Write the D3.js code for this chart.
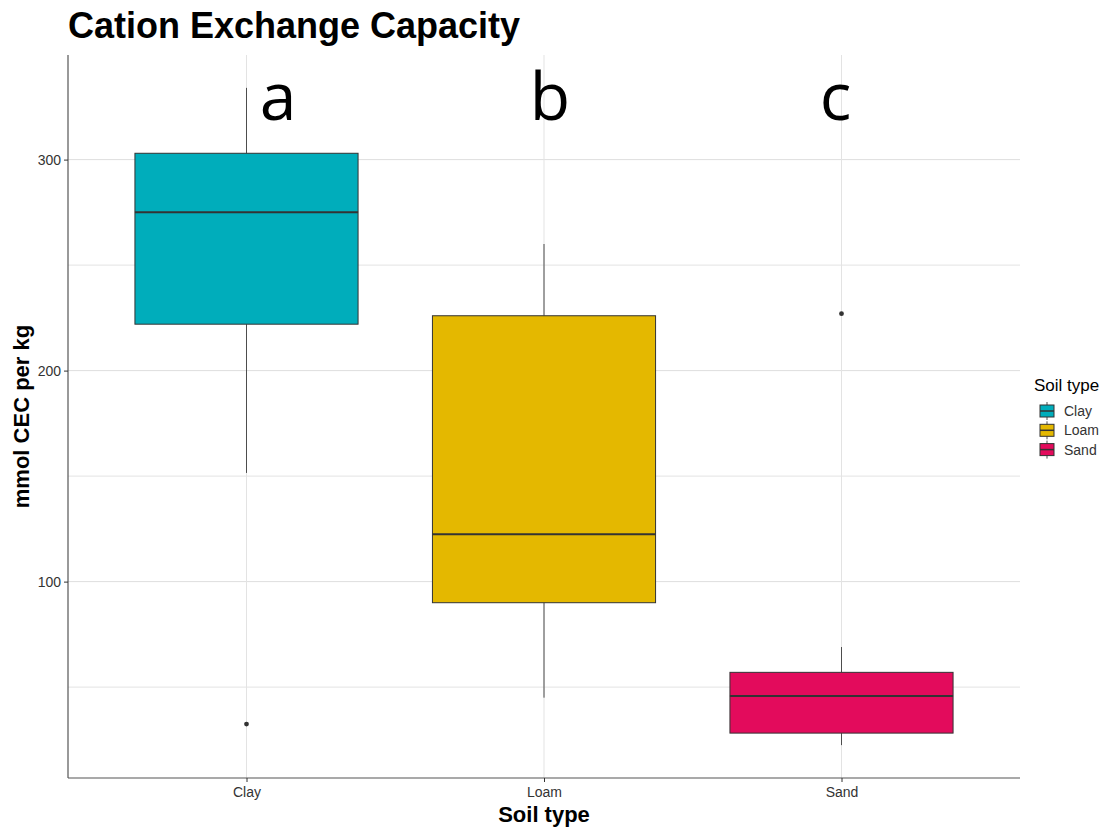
<!DOCTYPE html>
<html>
<head>
<meta charset="utf-8">
<script src="https://cdn.jsdelivr.net/npm/d3@7"></script>
<style>
  body { margin: 0; background: #fff; }
  svg { display: block; font-family: "Liberation Sans", Arial, sans-serif; }
</style>
</head>
<body>
<svg id="chart" width="1106" height="827"></svg>
<script>
// Soil types and their colours
const categories = ["Clay", "Loam", "Sand"];
const colors = ["#00ADBB", "#E4B800", "#E30B5C"];

// Five-number summaries (mmol CEC per kg)
const whiskerLow  = [151.5, 45, 22.5];
const q1          = [222, 90, 28.2];
const median      = [275, 122.5, 45.8];
const q3          = [303, 226, 57];
const whiskerHigh = [334, 260, 69];

// Outliers per soil type
const outliers = [[32.5], [], [227]];

// Significance letters and their positions (category index, value)
const letters   = ["a", "b", "c"];
const letterX   = [1.106, 2.02, 2.98];
const letterY   = [319, 319, 319];

const yTicks = [100, 200, 300];
const yMinor = [50, 150, 250];

const svg = d3.select("#chart");
const panel = { left: 68, right: 1020, top: 55, bottom: 778 };

// Continuous scales so boxes and letters share the same positioning
const x = d3.scaleLinear().domain([0.4, 3.6]).range([panel.left, panel.right]);
const dataLo = 22.5, dataHi = 334;
const pad = (dataHi - dataLo) * 0.05;
const y = d3.scaleLinear().domain([dataLo - pad, dataHi + pad]).range([panel.bottom, panel.top]);

const grid = svg.append("g");
// minor gridlines
grid.selectAll("line.minor").data(yMinor).join("line")
  .attr("x1", panel.left).attr("x2", panel.right)
  .attr("y1", d => y(d)).attr("y2", d => y(d))
  .attr("stroke", "#e3e3e3").attr("stroke-width", 1);
// major gridlines
grid.selectAll("line.major").data(yTicks).join("line")
  .attr("x1", panel.left).attr("x2", panel.right)
  .attr("y1", d => y(d)).attr("y2", d => y(d))
  .attr("stroke", "#dedede").attr("stroke-width", 1);
grid.selectAll("line.vert").data(categories).join("line")
  .attr("x1", (d, i) => x(i + 1)).attr("x2", (d, i) => x(i + 1))
  .attr("y1", panel.top).attr("y2", panel.bottom)
  .attr("stroke", "#e3e3e3").attr("stroke-width", 1);

// Boxplots
const boxW = 0.75;
const boxes = svg.append("g").selectAll("g").data(categories).join("g");
boxes.append("line")
  .attr("x1", (d, i) => x(i + 1)).attr("x2", (d, i) => x(i + 1))
  .attr("y1", (d, i) => y(whiskerHigh[i])).attr("y2", (d, i) => y(q3[i]))
  .attr("stroke", "#4d4d4d").attr("stroke-width", 1);
boxes.append("line")
  .attr("x1", (d, i) => x(i + 1)).attr("x2", (d, i) => x(i + 1))
  .attr("y1", (d, i) => y(q1[i])).attr("y2", (d, i) => y(whiskerLow[i]))
  .attr("stroke", "#4d4d4d").attr("stroke-width", 1);
boxes.append("rect")
  .attr("x", (d, i) => x(i + 1 - boxW / 2))
  .attr("width", (d, i) => x(i + 1 + boxW / 2) - x(i + 1 - boxW / 2))
  .attr("y", (d, i) => y(q3[i]))
  .attr("height", (d, i) => y(q1[i]) - y(q3[i]))
  .attr("fill", (d, i) => colors[i])
  .attr("stroke", "#333333").attr("stroke-width", 1);
boxes.append("line")
  .attr("x1", (d, i) => x(i + 1 - boxW / 2)).attr("x2", (d, i) => x(i + 1 + boxW / 2))
  .attr("y1", (d, i) => y(median[i])).attr("y2", (d, i) => y(median[i]))
  .attr("stroke", "#333333").attr("stroke-width", 2);
boxes.each(function(d, i) {
  d3.select(this).selectAll("circle").data(outliers[i]).join("circle")
    .attr("cx", x(i + 1)).attr("cy", v => y(v)).attr("r", 2.4)
    .attr("fill", "#333333");
});

// Axes
const yAxis = svg.append("g")
  .attr("transform", `translate(${panel.left},0)`)
  .call(d3.axisLeft(y).tickValues(yTicks).tickSize(4).tickPadding(3));
const xAxis = svg.append("g")
  .attr("transform", `translate(0,${panel.bottom})`)
  .call(d3.axisBottom(x).tickValues([1, 2, 3]).tickFormat((d) => categories[d - 1]).tickSize(4).tickPadding(5));
[yAxis, xAxis].forEach(a => {
  a.select(".domain").attr("stroke", "#555").attr("stroke-width", 1.2);
  a.selectAll(".tick line").attr("stroke", "#333");
  a.selectAll(".tick text").attr("fill", "#333").style("font-size", "14px")
    .style("font-family", "'Liberation Sans', Arial, sans-serif");
});
// rebuild domains without end caps
yAxis.select(".domain").attr("d", `M0,${panel.top}V${panel.bottom}`);
xAxis.select(".domain").attr("d", `M${panel.left},0H${panel.right}`);

// Significance letters
svg.append("g").selectAll("text").data(letters).join("text")
  .attr("x", (d, i) => x(letterX[i]))
  .attr("y", (d, i) => y(letterY[i]))
  .attr("text-anchor", "middle")
  .style("font-family", "'Open Sans', sans-serif")
  .style("font-size", "66px")
  .attr("fill", "#000")
  .text(d => d);

// Title and axis titles
svg.append("text").attr("x", 68).attr("y", 38)
  .style("font-size", "36px").style("font-weight", "bold").attr("fill", "#000")
  .text("Cation Exchange Capacity");
svg.append("text").attr("x", (panel.left + panel.right) / 2).attr("y", 822)
  .attr("text-anchor", "middle")
  .style("font-size", "22px").style("font-weight", "bold").attr("fill", "#000")
  .text("Soil type");
svg.append("text")
  .attr("transform", `translate(29,${(panel.top + panel.bottom) / 2}) rotate(-90)`)
  .attr("text-anchor", "middle")
  .style("font-size", "22px").style("font-weight", "bold").attr("fill", "#000")
  .text("mmol CEC per kg");

// Legend
const legend = svg.append("g").attr("transform", "translate(1034,0)");
legend.append("text").attr("x", 0).attr("y", 391)
  .style("font-size", "17px").attr("fill", "#000").text("Soil type");
const keys = legend.selectAll("g").data(categories).join("g")
  .attr("transform", (d, i) => `translate(0,${411 + i * 19.3})`);
keys.append("line").attr("x1", 13).attr("x2", 13).attr("y1", -9).attr("y2", 9)
  .attr("stroke", "#4d4d4d");
keys.append("rect").attr("x", 6).attr("y", -6).attr("width", 14).attr("height", 12)
  .attr("fill", (d, i) => colors[i]).attr("stroke", "#333");
keys.append("line").attr("x1", 6).attr("x2", 20).attr("y1", 0).attr("y2", 0)
  .attr("stroke", "#333").attr("stroke-width", 1.5);
keys.append("text").attr("x", 30).attr("y", 5)
  .style("font-size", "14px").attr("fill", "#333").text(d => d);
</script>
</body>
</html>
